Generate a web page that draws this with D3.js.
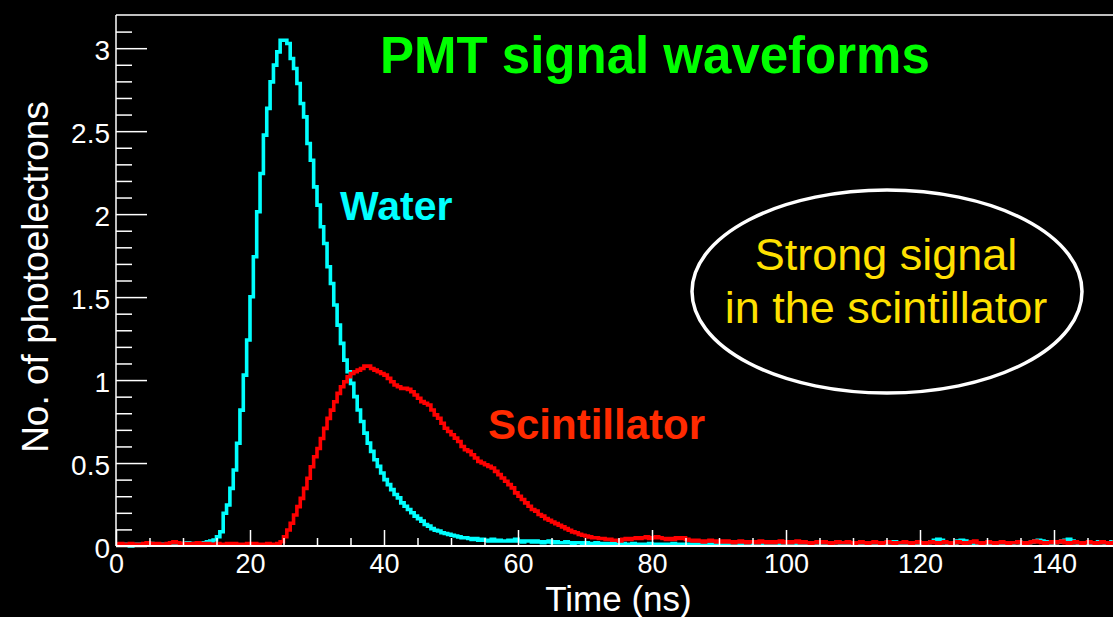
<!DOCTYPE html>
<html><head><meta charset="utf-8">
<script src="https://cdn.jsdelivr.net/npm/d3@7"></script>
<style>
html,body{margin:0;padding:0;background:#000;}
svg{display:block;background:#000;}
text{font-family:"Liberation Sans",Arial,Helvetica,sans-serif;}
</style></head><body>
<svg id="chart" width="1113" height="617"></svg>
<script>
// ---- data: 0.5 ns bins from 0 to 150 ns ----
const binWidth = 0.5;
const xDomain = [0, 150];
const yDomain = [0, 3.2];

const waterValues = [
 .01,.005,.01,.005,0,.005,.01,.005,.005,.01,
 .015,.01,.005,.01,.005,.005,.01,.01,.005,.01,
 .015,.02,.01,.015,.01,.015,.02,.025,.03,.036,
 .056,.086,.197,.247,.347,.458,.619,.819,1.03,1.241,
 1.502,1.743,2.014,2.245,2.476,2.637,2.797,2.898,2.978,3.048,
 3.048,3.028,2.938,2.878,2.787,2.667,2.586,2.426,2.325,2.164,
 2.054,1.924,1.823,1.683,1.582,1.452,1.331,1.221,1.12,1.05,
 .98,.90,.82,.75,.68,.62,.57,.52,.48,.44,
 .40,.37,.34,.31,.29,.26,.24,.22,.20,.18,
 .165,.15,.13,.12,.105,.095,.09,.08,.075,.07,
 .065,.06,.055,.05,.05,.045,.04,.045,.035,.04,
 .035,.03,.04,.03,.035,.03,.03,.035,.03,.04,
 .03,.025,.03,.03,.025,.03,.025,.02,.025,.03,
 .02,.025,.02,.02,.025,.02,.015,.02,.02,.015,
 .02,.015,.015,.02,.01,.015,.015,.01,.015,.01,
 .01,.015,.01,.01,.015,.01,.005,.01,.01,.015,
 .01,.005,.01,.01,.005,.01,.015,.01,.005,.01,
 .005,.01,.01,.005,.01,.005,.01,.005,.01,.005,
 .01,.015,.01,.005,.01,.02,.015,.01,.005,.01,
 .01,.005,.01,.015,.01,.005,.01,.01,.015,.01,
 .015,.02,.01,.015,.02,.015,.01,.02,.015,.01,
 .015,.02,.015,.01,.02,.025,.015,.01,.015,.02,
 .015,.01,.02,.015,.02,.015,.01,.015,.02,.015,
 .025,.02,.025,.015,.02,.015,.01,.015,.02,.015,
 .02,.015,.02,.025,.035,.04,.035,.02,.015,.02,
 .015,.03,.035,.03,.025,.02,.015,.02,.015,.02,
 .015,.02,.015,.01,.02,.015,.02,.015,.02,.025,
 .015,.02,.02,.025,.03,.035,.03,.025,.02,.015,
 .02,.025,.03,.035,.04,.03,.02,.015,.02,.015,
 .02,.015,.02,.025,.02,.015,.02,.025,.02,.015
];

const scintValues = [
 .01,.015,.01,.01,.015,.01,.005,.01,.015,.02,
 .015,.01,.015,.01,.01,.015,.02,.025,.02,.015,
 .01,.015,.01,.015,.02,.015,.01,.015,.01,.01,
 .015,.01,.01,.015,.01,.015,.01,.005,.01,.015,
 .01,.015,.01,.005,.01,.015,.01,.01,.015,.026,
 .056,.096,.137,.187,.237,.287,.347,.408,.478,.538,
 .588,.648,.709,.769,.819,.869,.92,.96,.99,1.02,
 1.04,1.05,1.06,1.07,1.084,1.084,1.07,1.06,1.05,1.04,
 1.03,1.01,.99,.97,.96,.95,.95,.944,.93,.91,
 .89,.87,.86,.85,.82,.79,.77,.74,.71,.69,
 .67,.65,.63,.60,.58,.57,.55,.53,.51,.50,
 .49,.48,.47,.45,.43,.41,.39,.37,.35,.32,
 .30,.28,.26,.24,.22,.21,.19,.18,.165,.155,
 .145,.135,.125,.115,.105,.095,.085,.08,.07,.065,
 .06,.055,.05,.05,.045,.045,.04,.04,.035,.035,
 .03,.04,.045,.04,.045,.05,.045,.05,.055,.045,
 .05,.055,.05,.045,.04,.045,.04,.05,.045,.05,
 .04,.035,.03,.035,.03,.025,.03,.035,.03,.025,
 .03,.025,.03,.025,.02,.025,.03,.025,.02,.025,
 .025,.02,.03,.025,.02,.025,.02,.025,.03,.02,
 .025,.02,.025,.03,.02,.025,.02,.015,.02,.025,
 .02,.025,.02,.015,.02,.025,.02,.02,.025,.02,
 .015,.02,.025,.02,.015,.02,.025,.02,.015,.02,
 .025,.02,.015,.02,.02,.025,.02,.015,.02,.025,
 .02,.015,.02,.025,.02,.015,.02,.025,.02,.015,
 .02,.025,.02,.015,.02,.025,.03,.02,.015,.02,
 .025,.02,.015,.02,.025,.02,.015,.02,.02,.025,
 .02,.015,.02,.025,.03,.025,.02,.015,.02,.025,
 .02,.025,.03,.02,.015,.02,.025,.02,.015,.02,
 .025,.02,.015,.02,.025,.02,.015,.02,.025,.02
];

const xMajorTicks = [0, 20, 40, 60, 80, 100, 120, 140];
const xTickLabels = ["0", "20", "40", "60", "80", "100", "120", "140"];
const yMajorTicks = [0, 0.5, 1, 1.5, 2, 2.5, 3];
const yTickLabels = ["0", "0.5", "1", "1.5", "2", "2.5", "3"];
const xMinorTicks = [5,10,15,25,30,35,45,50,55,65,70,75,85,90,95,105,110,115,125,130,135,145];
const yMinorTicks = [0.1,0.2,0.3,0.4,0.6,0.7,0.8,0.9,1.1,1.2,1.3,1.4,1.6,1.7,1.8,1.9,2.1,2.2,2.3,2.4,2.6,2.7,2.8,2.9,3.1];

const titleText = "PMT signal waveforms";
const xTitle = "Time (ns)";
const yTitle = "No. of photoelectrons";
const seriesLabels = ["Water", "Scintillator"];
const noteLines = ["Strong signal", "in the scintillator"];

// ---- layout ----
const L = 116, R = 1121, T = 15, B = 546;
const svg = d3.select("#chart");
const x = d3.scaleLinear().domain(xDomain).range([L, R]);
const y = d3.scaleLinear().domain(yDomain).range([B, T]);

function stepPoints(vals) {
  const pts = vals.map((v, i) => [i * binWidth, v]);
  pts.push([vals.length * binWidth, vals[vals.length - 1]]);
  return pts;
}
const line = d3.line().x(d => x(d[0])).y(d => y(d[1])).curve(d3.curveStepAfter);

svg.append("path").attr("d", line(stepPoints(waterValues)))
  .attr("fill", "none").attr("stroke", "#00ffff").attr("stroke-width", 3.6);
svg.append("path").attr("d", line(stepPoints(scintValues)))
  .attr("fill", "none").attr("stroke", "#ff0000").attr("stroke-width", 3.6);

// ---- axes ----
function styleAxis(g, fs) {
  g.select(".domain").remove();
  g.selectAll(".tick line").attr("stroke", "#fff").attr("stroke-width", 1.5);
  g.selectAll(".tick text").attr("fill", "#fff").attr("font-size", fs)
    .attr("font-family", '"Liberation Sans",Arial,Helvetica,sans-serif');
}
const gyMinor = svg.append("g").attr("transform", `translate(${L},0)`)
  .call(d3.axisLeft(y).tickValues(yMinorTicks).tickSize(-16).tickFormat(""));
styleAxis(gyMinor, 28);
const gy = svg.append("g").attr("transform", `translate(${L},0)`)
  .call(d3.axisLeft(y).tickValues(yMajorTicks).tickSize(-31).tickPadding(6)
    .tickFormat((d, i) => yTickLabels[i]));
styleAxis(gy, 28);
gy.selectAll(".tick text").attr("dy", "0.41em");

const gxMinor = svg.append("g").attr("transform", `translate(0,${B})`)
  .call(d3.axisBottom(x).tickValues(xMinorTicks).tickSize(-8).tickFormat(""));
styleAxis(gxMinor, 27);
const gx = svg.append("g").attr("transform", `translate(0,${B})`)
  .call(d3.axisBottom(x).tickValues(xMajorTicks).tickSize(-16).tickPadding(8)
    .tickFormat((d, i) => xTickLabels[i]));
styleAxis(gx, 27);

// frame
svg.append("line").attr("x1", L).attr("x2", L).attr("y1", T).attr("y2", B)
  .attr("stroke", "#fff").attr("stroke-width", 1.5);
svg.append("line").attr("x1", L).attr("x2", R).attr("y1", T).attr("y2", T)
  .attr("stroke", "#fff").attr("stroke-width", 1.5);
svg.append("line").attr("x1", L).attr("x2", R).attr("y1", B).attr("y2", B)
  .attr("stroke", "#fff").attr("stroke-width", 2);

// axis titles
svg.append("text").attr("x", (L + R) / 2).attr("y", 611).attr("text-anchor", "middle")
  .attr("fill", "#fff").attr("font-size", 35).text(xTitle);
svg.append("text").attr("transform", "translate(48,277) rotate(-90)").attr("text-anchor", "middle")
  .attr("fill", "#fff").attr("font-size", 37).text(yTitle);

// title and labels
svg.append("text").attr("x", 380).attr("y", 73).attr("fill", "#00ff00")
  .attr("font-size", 51).attr("font-weight", "bold").text(titleText);
svg.append("text").attr("x", 340).attr("y", 220).attr("fill", "#00ffff")
  .attr("font-size", 41).attr("font-weight", "bold").text(seriesLabels[0]);
svg.append("text").attr("x", 488).attr("y", 439).attr("fill", "#ff2a00")
  .attr("font-size", 42).attr("font-weight", "bold").text(seriesLabels[1]);

// note
svg.append("ellipse").attr("cx", 887).attr("cy", 291.5).attr("rx", 195).attr("ry", 101.5)
  .attr("fill", "none").attr("stroke", "#fff").attr("stroke-width", 3.5);
svg.append("text").attr("x", 886).attr("y", 270).attr("text-anchor", "middle")
  .attr("fill", "#ffe000").attr("font-size", 45).text(noteLines[0]);
svg.append("text").attr("x", 886).attr("y", 322.5).attr("text-anchor", "middle")
  .attr("fill", "#ffe000").attr("font-size", 45).text(noteLines[1]);
</script>
</body></html>
